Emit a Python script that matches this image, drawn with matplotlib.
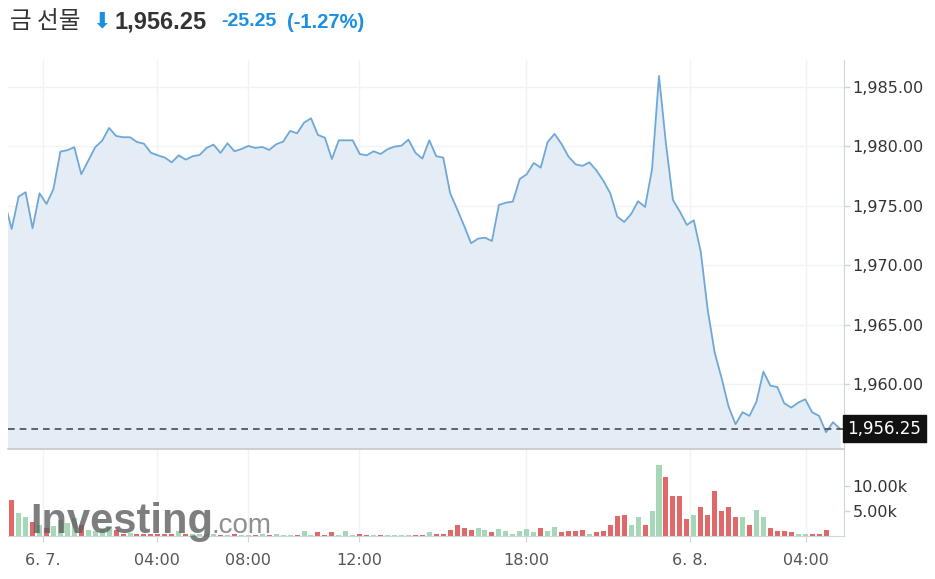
import matplotlib
matplotlib.use("Agg")
import matplotlib.pyplot as plt
import numpy as np

# ---- data ----
prices = [1975.28,
    1973.04, 1975.76, 1976.13, 1973.10, 1976.04, 1975.14, 1976.40, 1979.54, 1979.66, 1979.91,
    1977.64, 1978.78, 1979.91, 1980.46, 1981.53, 1980.86, 1980.75, 1980.75, 1980.35, 1980.21,
    1979.45, 1979.23, 1979.04, 1978.64, 1979.23, 1978.87, 1979.15, 1979.26, 1979.85, 1980.13,
    1979.43, 1980.24, 1979.57, 1979.76, 1980.02, 1979.85, 1979.93, 1979.68, 1980.16, 1980.38,
    1981.28, 1981.08, 1981.97, 1982.34, 1980.94, 1980.71, 1978.92, 1980.49, 1980.49, 1980.49,
    1979.34, 1979.23, 1979.57, 1979.34, 1979.74, 1979.96, 1980.04, 1980.55, 1979.45, 1978.95,
    1980.49, 1979.15, 1979.04, 1976.04, 1974.70, 1973.32, 1971.84, 1972.23, 1972.31, 1972.03,
    1975.06, 1975.25, 1975.34, 1977.24, 1977.64, 1978.59, 1978.19, 1980.35, 1981.03, 1980.18,
    1979.12, 1978.48, 1978.34, 1978.64, 1977.97, 1977.10, 1976.04, 1974.08, 1973.63, 1974.30,
    1975.37, 1974.89, 1978.06, 1985.90, 1980.20, 1975.48, 1974.50, 1973.38, 1973.77, 1971.13,
    1966.24, 1962.65, 1960.50, 1958.11, 1956.63, 1957.64, 1957.33, 1958.53, 1961.05, 1959.87,
    1959.76, 1958.39, 1958.03, 1958.45, 1958.73, 1957.64, 1957.33, 1955.96, 1956.80, 1956.25]

volumes_k = [
    7.3, 4.7, 3.8, 2.9, 2.3, 1.7, 2.0, 3.3, 2.7, 3.7,
    2.3, 1.3, 1.0, 1.7, 2.0, 1.3, 0.5, 0.7, 0.5, 0.5,
    0.5, 0.5, 0.5, 0.5, 1.0, 0.5, 0.4, 0.4, 0.4, 0.4,
    0.3, 0.3, 0.4, 0.3, 0.3, 0.3, 0.4, 0.3, 0.5, 0.2,
    0.2, 0.2, 1.0, 0.3, 0.8, 0.3, 0.8, 0.2, 1.0, 0.2,
    0.5, 0.3, 0.3, 0.3, 0.3, 0.3, 0.3, 0.3, 0.3, 0.3,
    0.8, 0.5, 0.5, 1.3, 2.2, 1.7, 1.3, 1.7, 1.3, 0.8,
    1.5, 1.0, 0.5, 1.0, 1.5, 0.8, 1.7, 1.0, 1.9, 0.8,
    1.0, 1.0, 1.3, 0.5, 0.8, 1.0, 2.2, 4.0, 4.3, 2.2,
    3.8, 2.2, 5.0, 14.3, 11.9, 8.0, 8.0, 3.5, 4.3, 5.9,
    4.3, 9.1, 5.0, 5.9, 3.8, 3.8, 2.2, 5.2, 3.8, 1.7,
    1.0, 1.0, 0.8, 0.5, 0.5, 0.5, 0.5, 1.3, 0.0, 0.0]

tick_pos = [5.54, 21.9, 35.0, 50.9, 74.9, 98.4, 115.1]
tick_labels = ["6. 7.", "04:00", "08:00", "12:00", "18:00", "6. 8.", "04:00"]
price_ticks = [1960, 1965, 1970, 1975, 1980, 1985]
vol_ticks = [5000, 10000]
last_price = 1956.25
change = -25.25
change_pct = -1.27

# ---- style ----
W, H = 935, 579
fig = plt.figure(figsize=(W / 100, H / 100), dpi=100)
fig.patch.set_facecolor("white")

line_c = "#6fa8d6"
fill_c = "#e4edf5"
grid_c = "#f1f2f4"
text_c = "#333333"
red_c = "#e06868"
green_c = "#a6d8b8"

x = np.arange(len(prices))
xlim = (0.47, 120.58)

def px_axes(l, t, r, b):
    return fig.add_axes([l / W, 1 - b / H, (r - l) / W, (b - t) / H])

ax = px_axes(8, 60, 844, 449)
axv = px_axes(8, 450, 844, 536)

ymin, ymax = 1954.55, 1987.24
ax.fill_between(x, prices, ymin, color=fill_c, lw=0, zorder=1)
ax.plot(x, prices, color=line_c, lw=1.3, zorder=3)
ax.axhline(last_price, color="#4a4a4a", lw=1.2, ls=(0, (4, 3)), zorder=4)
ax.set_xlim(*xlim)
ax.set_ylim(ymin, ymax)
ax.set_yticks(price_ticks)
ax.set_yticklabels([f"{v:,.2f}" for v in price_ticks])
ax.yaxis.tick_right()
ax.tick_params(axis="y", length=4, width=1, color="#ccd6e0", labelsize=11.5,
               labelcolor=text_c, pad=2)
ax.set_xticks(tick_pos)
ax.tick_params(axis="x", length=0, labelbottom=False)
ax.grid(True, color=grid_c, lw=1, zorder=0)
ax.set_axisbelow(True)
for s in ["top", "left"]:
    ax.spines[s].set_visible(False)
ax.spines["right"].set_color("#ccd6e0")
ax.spines["bottom"].set_color("#c8c8c8")
ax.spines["bottom"].set_linewidth(1.2)

ax.text(1.004, last_price, f"{last_price:,.2f}", transform=ax.get_yaxis_transform(),
        ha="left", va="center", color="white", fontsize=12, zorder=10,
        bbox=dict(boxstyle="square,pad=0.28", fc="#111111", ec="#111111"))

# volume
vols = np.array(volumes_k) * 1000
diffs = np.diff(prices)
cols = [green_c if d >= 0 else red_c for d in diffs]
axv.bar(x[1:], vols, width=0.72, color=cols, lw=0, zorder=2)
axv.set_xlim(*xlim)
axv.set_ylim(0, 17200)
axv.set_yticks(vol_ticks)
axv.set_yticklabels([f"{v / 1000:.2f}k" for v in vol_ticks])
axv.yaxis.tick_right()
axv.tick_params(axis="y", length=4, width=1, color="#ccd6e0", labelsize=11.5,
                labelcolor=text_c, pad=2)
axv.set_xticks(tick_pos)
axv.set_xticklabels(tick_labels)
axv.tick_params(axis="x", length=4, color="#ccd6e0", labelsize=11.5,
                labelcolor="#555555", pad=8)
axv.grid(True, axis="x", color=grid_c, lw=1, zorder=0)
axv.set_axisbelow(True)
for s in ["top", "left"]:
    axv.spines[s].set_visible(False)
axv.spines["right"].set_color("#ccd6e0")
axv.spines["bottom"].set_color("#ccd6e0")

# watermark
fig.text(30 / W, 1 - 533 / H, "Investing", fontsize=30, fontweight="bold",
         color="#5e5e5e", alpha=0.8, ha="left", va="baseline", family="Liberation Sans")
fig.text(212 / W, 1 - 533 / H, ".com", fontsize=20, color="#6a6a6a", alpha=0.75,
         ha="left", va="baseline", family="Liberation Sans")

# title
fig.text(10 / W, 1 - 22 / H, "금 선물", fontsize=17, color=text_c, va="center",
         family=["Noto Sans CJK KR", "DejaVu Sans"])
fig.text(92 / W, 1 - 21 / H, "⬇", fontsize=16, color="#1a8fe3", va="center",
         family="DejaVu Sans")
fig.text(115 / W, 1 - 22 / H, f"{last_price:,.2f}", fontsize=17, fontweight="bold",
         color=text_c, va="center", family="Liberation Sans")
fig.text(221 / W, 1 - 22 / H, f"{change:.2f}", fontsize=14, fontweight="bold",
         color="#1a8fe3", va="center", family="Liberation Sans")
fig.text(287 / W, 1 - 22 / H, f"({change_pct:.2f}%)", fontsize=14.5, fontweight="bold",
         color="#1a8fe3", va="center", family="Liberation Sans")

fig.savefig("out.png", dpi=100)
